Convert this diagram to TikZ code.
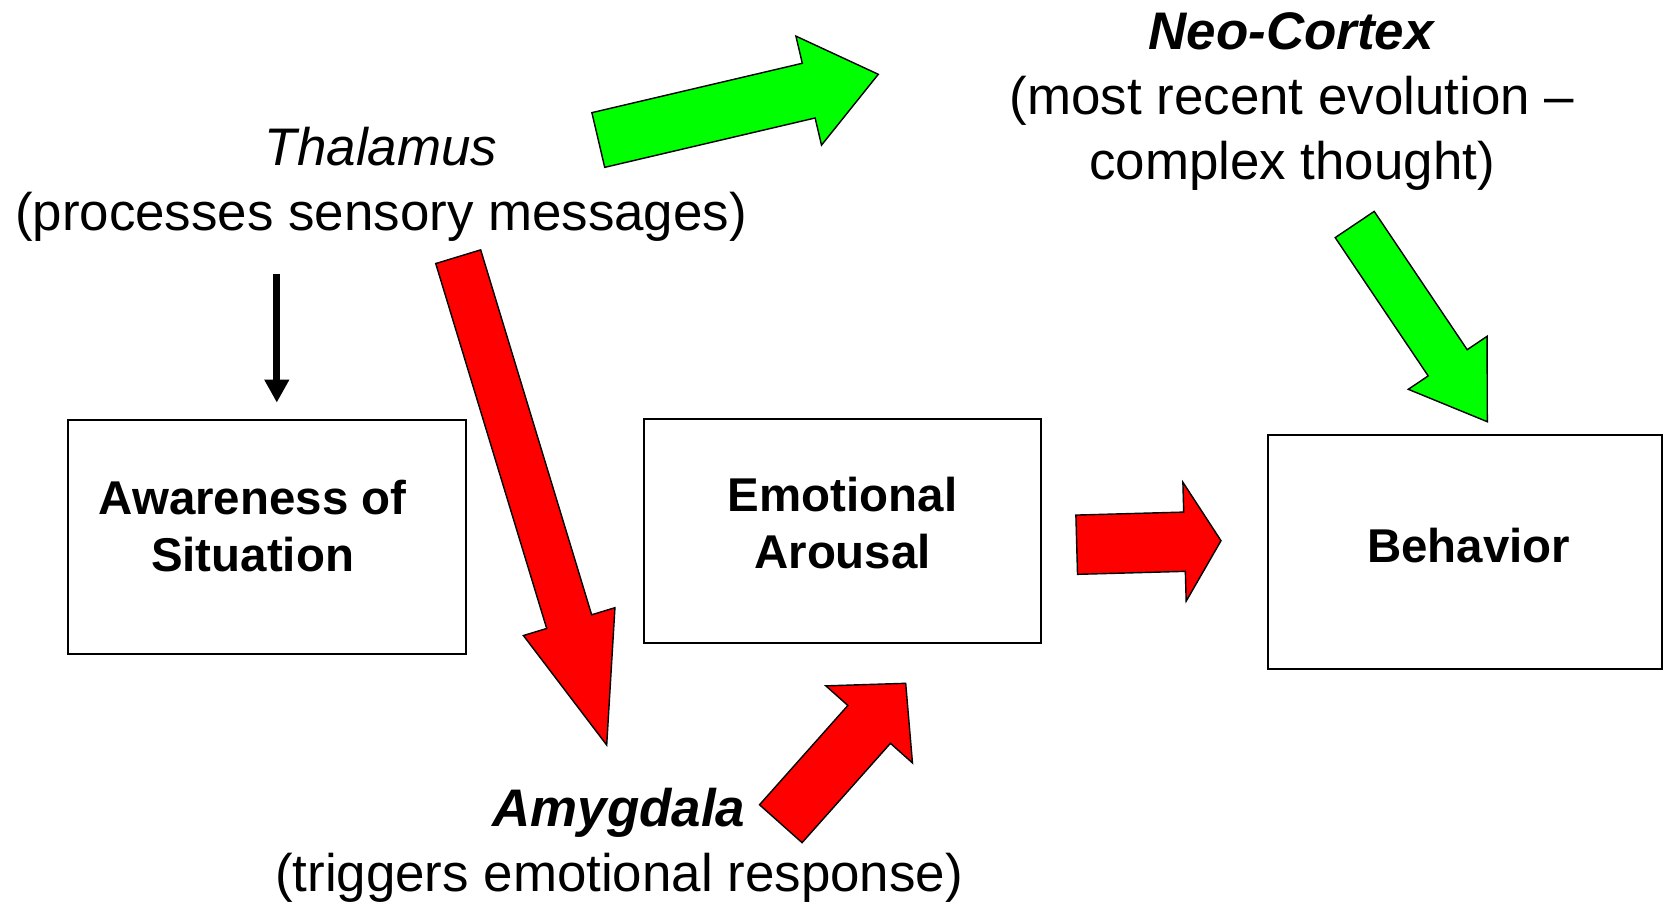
\documentclass[tikz,border=0pt]{standalone}
\usepackage{fontspec}
\setmainfont{Liberation Sans}
\usetikzlibrary{arrows.meta,calc,positioning}

\definecolor{FastRed}{RGB}{255,0,0}
\definecolor{SlowGreen}{RGB}{0,255,0}

% block arrow: #1 style, #2 tail, #3 tip, #4 half shaft, #5 half head, #6 head length
\newcommand{\blockarrow}[6]{%
  \coordinate (hb) at ($(#3)!#6!(#2)$);
  \draw[#1] ($(#2)!#4!90:(#3)$) -- ($(hb)!#4!90:(#3)$) -- ($(hb)!#5!90:(#3)$) -- (#3)
        -- ($(hb)!#5!-90:(#3)$) -- ($(hb)!#4!-90:(#3)$) -- ($(#2)!#4!-90:(#3)$) -- cycle;
}

\begin{document}
\begin{tikzpicture}[
      x=0.02cm, y=-0.02cm,
      lbl/.style    ={font=\fontsize{30.1}{37}\selectfont, align=center, inner sep=0pt},
      box/.style    ={draw, line width=1.1pt, inner sep=0pt},
      boxtxt/.style ={font=\fontsize{27}{32.6}\selectfont\bfseries, align=center, inner sep=0pt},
      fatred/.style ={fill=FastRed, draw=black, line width=0.8pt},
      fatgreen/.style={fill=SlowGreen, draw=black, line width=0.8pt},
      thin/.style   ={-{Triangle[length=0.46cm,width=0.47cm]}, line width=4pt},
  ]
  \useasboundingbox (0,0) rectangle (1664,904);

  % ─ Labels ─
  \node[lbl] (thal) at (381,184) {\textit{Thalamus}\\(processes sensory messages)};
  \node[lbl] (neo)  at (1292,102) {\textbf{\textit{Neo-Cortex}}\\(most recent evolution –\\complex thought)};
  \node[lbl] (amy)  at (619,845) {\textbf{\textit{Amygdala}}\\(triggers emotional response)};

  % ─ Boxes ─
  \node[box, minimum width=7.96cm, minimum height=4.69cm] (aware) at (266.8,536.8) {};
  \node[box, minimum width=7.94cm, minimum height=4.48cm] (emo)   at (842.6,531.2) {};
  \node[box, minimum width=7.88cm, minimum height=4.67cm] (behav) at (1465,551.8)  {};

  \node[boxtxt] (aware-txt) at ([xshift=-0.284cm,yshift=0.216cm]aware.center) {Awareness of\\Situation};
  \node[boxtxt] (emo-txt)   at ([yshift=0.164cm]emo.center) {Emotional\\Arousal};
  \node[boxtxt] (behav-txt) at ([xshift=0.074cm,yshift=0.116cm]behav.center) {Behavior};

  % ─ Arrow ends ─
  \coordinate (thal-out1) at (598.3,140);
  \coordinate (neo-in)    at (878.3,74.3);
  \coordinate (thal-out2) at (458.2,256.7);
  \coordinate (amy-in)    at (606.7,745);
  \coordinate (amy-out)   at (780.8,823.7);
  \coordinate (emo-in)    at (905.7,683.3);
  \coordinate (emo-out)   at (1076.7,544.7);
  \coordinate (behav-in1) at (1221,540.7);
  \coordinate (neo-out)   at (1354.7,224.5);
  \coordinate (behav-in2) at (1487.3,421.7);

  % ─ Slow route (green) ─
  \blockarrow{fatgreen}{thal-out1}{neo-in}{0.562cm}{1.12cm}{1.43cm}
  \blockarrow{fatgreen}{neo-out}{behav-in2}{0.47cm}{0.95cm}{1.42cm}

  % ─ Fast route (red) ─
  \blockarrow{fatred}{thal-out2}{amy-in}{0.47cm}{0.957cm}{2.58cm}
  \blockarrow{fatred}{amy-out}{emo-in}{0.57cm}{1.16cm}{1.10cm}
  \blockarrow{fatred}{emo-out}{behav-in1}{0.593cm}{1.19cm}{0.73cm}

  % ─ Thalamus → awareness ─
  \draw[thin] ([xshift=0.2cm,yshift=2.9cm]aware.north) -- ([xshift=0.2cm,yshift=0.32cm]aware.north);
  \end{tikzpicture}
\end{document}
